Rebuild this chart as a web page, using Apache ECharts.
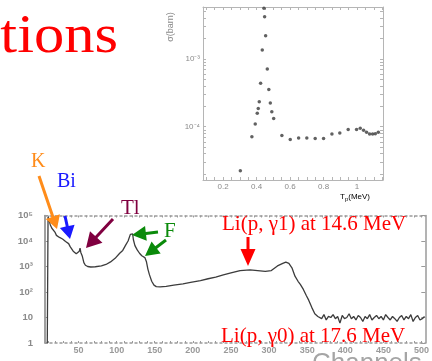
<!DOCTYPE html>
<html>
<head>
<meta charset="utf-8">
<script src="https://cdn.jsdelivr.net/npm/echarts@6/dist/echarts.min.js"></script>
<style>
  html, body { margin: 0; padding: 0; background: #fff; }
  #chart { width: 432px; height: 361px; }
</style>
</head>
<body>
<div id="chart"></div>
<script>
// Capture cross section of 7Li(p,gamma) vs proton energy (inset)
const protonEnergy = [0.303, 0.372, 0.392, 0.404, 0.410, 0.416, 0.424, 0.434, 0.444, 0.448,
  0.454, 0.464, 0.473, 0.482, 0.491, 0.502, 0.551, 0.601, 0.651, 0.700, 0.750, 0.800,
  0.850, 0.897, 0.947, 0.997, 1.019, 1.039, 1.057, 1.075, 1.093, 1.109, 1.127];
const crossSection = [2.25e-5, 7.1e-5, 1.10e-4, 1.58e-4, 1.86e-4, 2.34e-4, 4.37e-4, 1.35e-3,
  5.6e-3, 4.17e-3, 2.19e-3, 7.1e-4, 3.55e-4, 2.24e-4, 1.66e-4, 1.32e-4, 7.4e-5, 6.5e-5,
  6.8e-5, 6.8e-5, 6.7e-5, 6.7e-5, 7.8e-5, 8.1e-5, 9.1e-5, 9.1e-5, 9.5e-5, 8.9e-5, 8.3e-5,
  7.8e-5, 7.8e-5, 7.9e-5, 8.3e-5];
const energyTicks = [0.2, 0.4, 0.6, 0.8, 1];
const sigmaTicks = [1e-4, 1e-3];

// Gamma spectrum: counts per channel
const channels = [9, 10, 13, 15, 17, 19, 21, 23, 25, 27, 29, 31, 33, 35, 37, 39, 41, 43, 45, 47,
  49, 51, 52, 53, 55, 57, 59, 62, 66, 72, 80, 86, 92, 98, 104, 108, 112, 115, 118, 120, 121,
  122, 124, 127, 130, 133, 135, 137, 139, 141, 143, 146, 149, 152, 157, 165, 175, 187, 197,
  210, 220, 230, 240, 250, 262, 275, 285, 295, 303, 311, 318, 322, 326, 330, 334, 338, 341,
  345, 349, 352, 356, 360, 364,
  366, 369, 372, 375, 378, 381, 384, 387, 390, 393, 396, 399, 402, 405, 408, 411, 414, 417,
  420, 423, 426, 429, 432, 435, 438, 441, 444, 447, 450, 453, 456, 459, 462, 465, 468, 471,
  474, 477, 480, 483, 486, 489, 492, 495, 498, 501, 504];
const counts = [1, 89000, 42700, 31600, 26900, 22400, 16600, 19000, 13800, 15100, 12000, 13200,
  9550, 8900, 7900, 6000, 5250, 3980, 3550, 3160, 3630, 3980, 5250, 3550, 2510, 1410, 1120,
  1000, 955, 977, 1050, 1200, 1510, 2090, 3310, 4270, 7080, 10000, 18200, 21400, 19000, 11200,
  6610, 4470, 3310, 2630, 2820, 2240, 1580, 794, 479, 263, 186, 162, 158, 166, 186, 209, 240,
  282, 331, 380, 468, 562, 692, 741, 692, 646, 692, 1050, 1320, 1480, 1320, 891, 417, 263, 200,
  126, 71, 48, 25, 14, 11,
  12, 9, 13, 8, 11, 10, 13, 9, 11, 6, 12, 9, 10, 14, 9, 11, 8, 12, 10, 7, 11, 9, 13, 8, 10,
  12, 9, 11, 8, 13, 10, 8, 11, 9, 7, 10, 12, 8, 11, 9, 13, 7, 10, 12, 8, 9, 11];
const channelTicks = [50, 100, 150, 200, 250, 300, 350, 400, 450, 500];

const sup = { '1': '¹', '2': '²', '3': '³', '4': '⁴', '5': '⁵', '-': '⁻' };
function powLabel(v) {
  const e = Math.round(Math.log10(v));
  if (e === 0) return '1';
  if (e === 1) return '10';
  return '10' + String(e).split('').map(c => sup[c]).join('');
}
function range(a, b, s) { const r = []; for (let v = a; v <= b + 1e-9; v += s) r.push(+v.toFixed(4)); return r; }
function logMinors(lo, hi) {
  const r = [];
  for (let d = Math.floor(Math.log10(lo)); d <= Math.ceil(Math.log10(hi)); d++)
    for (let m = 1; m < 10; m++) { const v = m * Math.pow(10, d); if (v >= lo && v <= hi) r.push(v); }
  return r;
}

// Filled arrow polygon from a start point to a tip
function arrow(x1, y1, x2, y2, color, w, L, H) {
  const dx = x2 - x1, dy = y2 - y1, len = Math.hypot(dx, dy);
  const ux = dx / len, uy = dy / len, nx = -uy, ny = ux;
  const bx = x2 - ux * L, by = y2 - uy * L;
  return {
    type: 'polygon',
    shape: { points: [
      [x1 + nx * w / 2, y1 + ny * w / 2], [bx + nx * w / 2, by + ny * w / 2],
      [bx + nx * H / 2, by + ny * H / 2], [x2, y2],
      [bx - nx * H / 2, by - ny * H / 2], [bx - nx * w / 2, by - ny * w / 2],
      [x1 - nx * w / 2, y1 - ny * w / 2]] },
    style: { fill: color },
    z: 20
  };
}
// Serif caption placed by its baseline; sx widens the glyphs a little
function label(text, x, baseline, size, color, align, sx) {
  return { type: 'text', x, y: baseline + Math.round(0.21 * size), z: 21, scaleX: sx || 1,
    style: { text, font: size + 'px "Liberation Serif", serif', fill: color,
      textAlign: align || 'left', textVerticalAlign: 'bottom' } };
}

const insetGrid = { left: 203, top: 7, width: 180, height: 173 };
const specGrid = { left: 45, top: 215.5, width: 381, height: 127.5 };
const frameGrey = '#b5b5b5';
const tickFont = { fontFamily: 'Liberation Sans', fontSize: 8, color: '#8a8a8a' };

const chart = echarts.init(document.getElementById('chart'), null, { renderer: 'canvas' });
chart.setOption({
  animation: false,
  grid: [
    Object.assign({ show: false }, insetGrid),
    Object.assign({ show: false }, specGrid)
  ],
  xAxis: [
    { gridIndex: 0, type: 'value', min: 0.08, max: 1.155, position: 'bottom',
      axisLine: { lineStyle: { color: frameGrey } },
      axisTick: { inside: true, length: 3, customValues: range(0.1, 1.15, 0.05), lineStyle: { color: frameGrey } },
      axisLabel: Object.assign({ customValues: energyTicks, margin: 3,
        formatter: v => (v === 1 ? '1' : v.toFixed(1)) }, tickFont),
      splitLine: { show: false } },
    { gridIndex: 0, type: 'value', min: 0.08, max: 1.155, position: 'top',
      axisLine: { lineStyle: { color: frameGrey } },
      axisTick: { inside: true, length: 3, customValues: range(0.1, 1.15, 0.05), lineStyle: { color: frameGrey } },
      axisLabel: { show: false }, splitLine: { show: false } },
    { gridIndex: 1, type: 'value', min: 6, max: 505, position: 'bottom',
      axisLine: { lineStyle: { color: '#9a9a9a', type: [2, 3], width: 1.5 } },
      axisTick: { inside: true, length: 2, customValues: range(10, 500, 10), lineStyle: { color: '#9a9a9a' } },
      axisLabel: Object.assign({}, tickFont, { customValues: channelTicks, margin: 3, fontSize: 9,
        fontWeight: 'bold', color: '#9a9a9a' }),
      splitLine: { show: false } },
    { gridIndex: 1, type: 'value', min: 6, max: 505, position: 'top',
      axisLine: { lineStyle: { color: '#9a9a9a', type: [2, 3], width: 1.5 } },
      axisTick: { inside: true, length: 2, customValues: range(10, 500, 10), lineStyle: { color: '#9a9a9a' } },
      axisLabel: { show: false }, splitLine: { show: false } }
  ],
  yAxis: [
    { gridIndex: 0, type: 'log', logBase: 10, min: 1.64e-5, max: 5.82e-3, position: 'left',
      axisLine: { show: true, lineStyle: { color: frameGrey } },
      axisTick: { show: true, inside: true, length: 3, customValues: logMinors(1.64e-5, 5.82e-3), lineStyle: { color: frameGrey } },
      axisLabel: Object.assign({ customValues: sigmaTicks, margin: 3, formatter: powLabel }, tickFont),
      splitLine: { show: false } },
    { gridIndex: 0, type: 'log', logBase: 10, min: 1.64e-5, max: 5.82e-3, position: 'right',
      axisLine: { show: true, lineStyle: { color: frameGrey } },
      axisTick: { show: true, inside: true, length: 3, customValues: logMinors(1.64e-5, 5.82e-3), lineStyle: { color: frameGrey } },
      axisLabel: { show: false }, splitLine: { show: false } },
    { gridIndex: 1, type: 'log', logBase: 10, min: 1, max: 1e5, position: 'left',
      axisLine: { show: true, lineStyle: { color: '#808080', width: 1.5 } },
      axisTick: { show: true, inside: true, length: 3, lineStyle: { color: '#999' } },
      axisLabel: { margin: 12, formatter: powLabel, fontFamily: 'Liberation Sans', fontSize: 9.5,
        fontWeight: 'bold', color: '#8a8a8a' },
      splitLine: { show: false } },
    { gridIndex: 1, type: 'log', logBase: 10, min: 1, max: 1e5, position: 'right',
      axisLine: { show: true, lineStyle: { color: '#9a9a9a', width: 1.5 } },
      axisTick: { show: true, inside: true, length: 4, lineStyle: { color: '#9a9a9a' } },
      axisLabel: { show: false }, splitLine: { show: false } }
  ],
  series: [
    { type: 'scatter', xAxisIndex: 0, yAxisIndex: 0, symbol: 'circle', symbolSize: 3.5,
      itemStyle: { color: '#3a3a3a' },
      data: protonEnergy.map((e, i) => [e, crossSection[i]]) },
    { type: 'line', xAxisIndex: 2, yAxisIndex: 2, showSymbol: false, clip: true,
      lineStyle: { color: '#3c3c3c', width: 1.3 },
      data: channels.map((c, i) => [c, counts[i]]) }
  ],
  graphic: [
    label('tions', 118, 53, 55, '#ff0000', 'right', 1.1),
    { type: 'text', x: 171, y: 27, rotation: Math.PI / 2, z: 21,
      style: { text: 'σ(barn)', font: '9px "Liberation Sans", sans-serif', fill: '#8a8a8a',
        textAlign: 'center', textVerticalAlign: 'middle' } },
    { type: 'text', x: 340, y: 197, z: 21,
      style: { text: '{t|T}{s|p}{t|(MeV)}', textVerticalAlign: 'middle',
        rich: { t: { fontSize: 8, fontFamily: 'Liberation Sans', color: '#8a8a8a' },
                s: { fontSize: 6, fontFamily: 'Liberation Sans', color: '#8a8a8a', padding: [4, 0, 0, 0] } } } },
    { type: 'text', x: 312, y: 377, z: 21,
      style: { text: 'Channels', font: '26px "Liberation Sans", sans-serif', fill: '#a5a5a5',
        textAlign: 'left', textVerticalAlign: 'bottom' } },
    label('K', 31, 168, 20, '#ff8c1a'),
    label('Bi', 57, 188, 20, '#1a1aff'),
    label('Tl', 121, 215, 21, '#800040'),
    label('F', 164, 238, 21, '#0a8a0a'),
    label('Li(p, γ1) at 14.6 MeV', 222, 231, 21, '#ff0000'),
    label('Li(p, γ0) at 17.6 MeV', 221, 343, 21, '#ff0000'),
    arrow(39, 176, 57, 229, '#ff8c1a', 3, 13, 15),
    arrow(65, 216, 70, 239, '#1a1aff', 3, 13, 15),
    arrow(113, 219, 86, 248, '#800040', 3, 15, 17),
    arrow(158, 232, 132, 235, '#0a8a0a', 3, 14, 15),
    arrow(166, 240, 145, 256, '#0a8a0a', 3, 14, 15),
    arrow(248, 237, 248, 266, '#ff0000', 3, 17, 15)
  ]
});
</script>
</body>
</html>
